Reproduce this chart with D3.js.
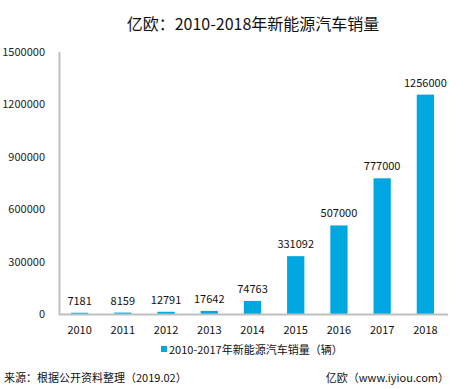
<!DOCTYPE html>
<html><head><meta charset="utf-8">
<script src="https://cdn.jsdelivr.net/npm/d3@7"></script>
<style>body{margin:0;background:#fff}text{font-family:"Noto Sans CJK SC","Noto Sans",sans-serif}</style>
</head><body>
<script>
const years = ["2010","2011","2012","2013","2014","2015","2016","2017","2018"];
const sales = [7181,8159,12791,17642,74763,331092,507000,777000,1256000];
const yTicks = [0,300000,600000,900000,1200000,1500000];
const title = "亿欧：2010-2018年新能源汽车销量";
const legendLabel = "2010-2017年新能源汽车销量（辆）";
const sourceText = "来源：根据公开资料整理（2019.02）";
const creditText = "亿欧（www.iyiou.com）";

const W=467,H=389;
const svg=d3.select("body").append("svg").attr("width",W).attr("height",H);
const x=d3.scaleBand().domain(years).range([58,447]).paddingInner(0.6).paddingOuter(0.3);
const y=d3.scaleLinear().domain([0,1500000]).range([314,52]);
const blue="#00a8e1";

svg.append("text").attr("x",253).attr("y",30).attr("text-anchor","middle")
  .attr("font-size",16).attr("fill","#111").text(title);

// y axis labels
svg.selectAll(".yl").data(yTicks).enter().append("text")
  .attr("x",45).attr("y",d=>y(d)+4).attr("text-anchor","end")
  .attr("font-size",11).attr("fill","#222").text(d=>d);

// bars
svg.selectAll(".bar").data(years).enter().append("rect")
  .attr("x",d=>x(d)).attr("width",x.bandwidth())
  .attr("y",(d,i)=>y(sales[i])).attr("height",(d,i)=>y(0)-y(sales[i]))
  .attr("fill",blue);

// value labels
svg.selectAll(".vl").data(years).enter().append("text")
  .attr("x",d=>x(d)+x.bandwidth()/2).attr("y",(d,i)=>y(sales[i])-8)
  .attr("text-anchor","middle").attr("font-size",11).attr("fill","#111")
  .text((d,i)=>sales[i]);

// axes lines
svg.append("line").attr("x1",59.5).attr("x2",59.5).attr("y1",52).attr("y2",315)
  .attr("stroke","#bfbfbf").attr("stroke-width",2);
svg.append("line").attr("x1",59).attr("x2",448).attr("y1",314.5).attr("y2",314.5)
  .attr("stroke","#bfbfbf").attr("stroke-width",2);

// x labels
svg.selectAll(".xl").data(years).enter().append("text")
  .attr("x",d=>x(d)+x.bandwidth()/2).attr("y",334).attr("text-anchor","middle")
  .attr("font-size",11).attr("fill","#111").text(d=>d);

// legend
svg.append("rect").attr("x",161).attr("y",346).attr("width",6).attr("height",6).attr("fill",blue);
svg.append("text").attr("x",169).attr("y",354).attr("font-size",11).attr("fill","#111").text(legendLabel);

// footer
svg.append("text").attr("x",4).attr("y",382).attr("font-size",11).attr("fill","#111").text(sourceText);
svg.append("text").attr("x",449).attr("y",382).attr("text-anchor","end").attr("font-size",11).attr("fill","#111").text(creditText);
</script>
</body></html>
